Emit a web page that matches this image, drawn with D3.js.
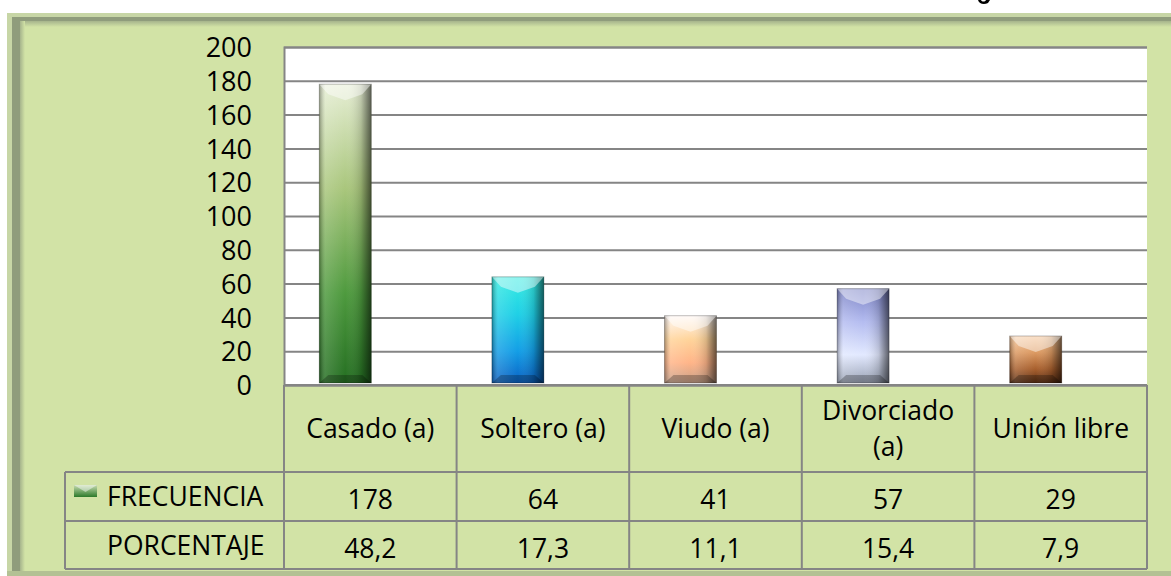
<!DOCTYPE html>
<html>
<head>
<meta charset="utf-8">
<script src="https://cdn.jsdelivr.net/npm/d3@7"></script>
<style>
  html, body { margin: 0; padding: 0; background: #fff; }
  svg { display: block; font-family: "Open Sans", "Noto Sans", sans-serif; }
</style>
</head>
<body>
<div id="chart"></div>
<script>
// ---- data -------------------------------------------------------------
const categories = ['Casado (a)', 'Soltero (a)', 'Viudo (a)', 'Divorciado (a)', 'Unión libre'];
const headerLines = [['Casado (a)'], ['Soltero (a)'], ['Viudo (a)'], ['Divorciado', '(a)'], ['Unión libre']];
const frecuencia = [178, 64, 41, 57, 29];
const porcentaje = ['48,2', '17,3', '11,1', '15,4', '7,9'];
const yTicks = [0, 20, 40, 60, 80, 100, 120, 140, 160, 180, 200];
const rowNames = ['FRECUENCIA', 'PORCENTAJE'];

// bar colour ramps (top -> bottom)
const barStops = [
  ['#e6eed4', '#a9c67c', '#4e9a3e', '#256f22'],
  ['#36ece2', '#1fd0e6', '#139ee6', '#0a62c4'],
  ['#fff6f2', '#ffd49a', '#ffb488', '#c7a088'],
  ['#7d84c6', '#b4bcf0', '#e2e9ff', '#9aa2b4'],
  ['#f6c69a', '#dc9a62', '#a8602e', '#5e3014']
];

// ---- layout -----------------------------------------------------------
const W = 1171, H = 576;
const plot = { left: 284, right: 1147, top: 47, bottom: 385 };
const rowHdr = 65;
const headerBottom = 472, row1Bottom = 521, row2Bottom = 569;
const barW = 52, barShift = -25;
const fs = 26.5;

const svg = d3.select('#chart').append('svg')
  .attr('width', W).attr('height', H);
const defs = svg.append('defs');

// ---- frame ------------------------------------------------------------
svg.append('rect').attr('x', 7).attr('y', 13).attr('width', W).attr('height', H)
  .attr('fill', '#c7d6a6');
svg.append('rect').attr('x', 12).attr('y', 17).attr('width', W).attr('height', H)
  .attr('fill', '#8f9c7c');
const inner = defs.append('linearGradient').attr('id', 'fx').attr('x1', 0).attr('x2', 1);
inner.append('stop').attr('offset', 0).attr('stop-color', '#a6b48c');
inner.append('stop').attr('offset', 1).attr('stop-color', '#d2e3a6');
const innerY = defs.append('linearGradient').attr('id', 'fy').attr('x1', 0).attr('x2', 0).attr('y1', 0).attr('y2', 1);
innerY.append('stop').attr('offset', 0).attr('stop-color', '#a6b48c');
innerY.append('stop').attr('offset', 1).attr('stop-color', '#d2e3a6');
svg.append('rect').attr('x', 20).attr('y', 21).attr('width', W).attr('height', 6).attr('fill', 'url(#fy)');
svg.append('rect').attr('x', 20).attr('y', 21).attr('width', 5).attr('height', H).attr('fill', 'url(#fx)');
svg.append('rect').attr('x', 25).attr('y', 27).attr('width', W).attr('height', H)
  .attr('fill', '#d2e3a6');
// bottom edge of frame
svg.append('rect').attr('x', 7).attr('y', 571).attr('width', W).attr('height', 5).attr('fill', '#b3c194');

// tail of a cut-off title glyph above the frame
svg.append('path')
  .attr('d', 'M978,0 C979,4 984,5 988,3 L990,0 L986,0 C985,2 982,2 981,0 Z')
  .attr('fill', '#000');

// ---- plot area --------------------------------------------------------
const y = d3.scaleLinear().domain([0, 200]).range([plot.bottom, plot.top]);
const x = d3.scaleBand().domain(categories).range([plot.left, plot.right]).padding(0);

svg.append('rect')
  .attr('x', plot.left).attr('y', plot.top)
  .attr('width', plot.right - plot.left).attr('height', plot.bottom - plot.top)
  .attr('fill', '#fff');

const yAxis = d3.axisLeft(y).tickValues(yTicks).tickSize(-(plot.right - plot.left)).tickPadding(32);
const ga = svg.append('g').attr('transform', `translate(${plot.left},0)`).call(yAxis);
ga.select('.domain').attr('stroke', '#858585').attr('stroke-width', 2);
ga.selectAll('.tick line').attr('stroke', '#858585').attr('stroke-width', 2);
ga.selectAll('.tick text').attr('font-size', 27).attr('fill', '#000')
  .attr('font-family', '"Open Sans", sans-serif').attr('dy', '0.36em');

// ---- bars -------------------------------------------------------------
barStops.forEach((s, i) => {
  const g = defs.append('linearGradient').attr('id', 'bg' + i)
    .attr('x1', 0).attr('x2', 0).attr('y1', 0).attr('y2', 1);
  [0, 0.35, 0.7, 1].forEach((o, k) => g.append('stop').attr('offset', o).attr('stop-color', s[k]));
});
const side = defs.append('linearGradient').attr('id', 'side').attr('x1', 0).attr('x2', 1);
side.append('stop').attr('offset', 0).attr('stop-color', '#000').attr('stop-opacity', 0.35);
side.append('stop').attr('offset', 0.12).attr('stop-color', '#fff').attr('stop-opacity', 0.15);
side.append('stop').attr('offset', 0.5).attr('stop-color', '#fff').attr('stop-opacity', 0);
side.append('stop').attr('offset', 0.8).attr('stop-color', '#000').attr('stop-opacity', 0.15);
side.append('stop').attr('offset', 1).attr('stop-color', '#000').attr('stop-opacity', 0.6);

const bars = svg.append('g').selectAll('g').data(frecuencia).join('g')
  .attr('transform', (d, i) => `translate(${x(categories[i]) + x.bandwidth() / 2 + barShift - barW / 2},0)`);
bars.append('rect')
  .attr('y', d => y(d)).attr('width', barW).attr('height', d => y(0) - y(d) - 2)
  .attr('fill', (d, i) => `url(#bg${i})`);
bars.append('rect')
  .attr('y', d => y(d)).attr('width', barW).attr('height', d => y(0) - y(d) - 2)
  .attr('fill', 'url(#side)');
// top bevel (light chevron) and bottom bevel (dark)
bars.append('path')
  .attr('d', d => `M0,${y(d)}H${barW}L${barW - 9},${y(d) + 10}L${barW / 2},${y(d) + 16}L9,${y(d) + 10}Z`)
  .attr('fill', '#fff').attr('fill-opacity', 0.45);
bars.append('path')
  .attr('d', d => `M0,${y(0) - 2}H${barW}L${barW - 9},${y(0) - 10}H9Z`)
  .attr('fill', '#000').attr('fill-opacity', 0.25);
bars.append('rect')
  .attr('y', d => y(d)).attr('width', barW).attr('height', d => y(0) - y(d) - 2)
  .attr('fill', 'none').attr('stroke', '#000').attr('stroke-opacity', 0.25).attr('stroke-width', 1);

// ---- data table -------------------------------------------------------
const tbl = svg.append('g').attr('stroke', '#858585').attr('stroke-width', 2).attr('fill', 'none');
tbl.append('line').attr('x1', plot.left).attr('x2', plot.right).attr('y1', plot.bottom).attr('y2', plot.bottom);
[headerBottom, row1Bottom, row2Bottom].forEach(yy =>
  tbl.append('line').attr('x1', rowHdr).attr('x2', plot.right).attr('y1', yy).attr('y2', yy));
tbl.append('line').attr('x1', rowHdr).attr('x2', rowHdr).attr('y1', headerBottom).attr('y2', row2Bottom);
categories.forEach(c => tbl.append('line')
  .attr('x1', x(c)).attr('x2', x(c)).attr('y1', plot.bottom).attr('y2', row2Bottom));
tbl.append('line').attr('x1', plot.right).attr('x2', plot.right).attr('y1', plot.bottom).attr('y2', row2Bottom);

const txt = svg.append('g').attr('font-size', fs).attr('fill', '#000').attr('text-anchor', 'middle');
headerLines.forEach((lines, i) => {
  const cx = x(categories[i]) + x.bandwidth() / 2;
  const mid = (plot.bottom + headerBottom) / 2;
  lines.forEach((l, k) => txt.append('text')
    .attr('x', cx).attr('y', mid + (k - (lines.length - 1) / 2) * 36).attr('dy', '0.36em').text(l));
});
frecuencia.forEach((v, i) => txt.append('text')
  .attr('x', x(categories[i]) + x.bandwidth() / 2).attr('y', (headerBottom + row1Bottom) / 2 + 3)
  .attr('dy', '0.36em').text(v));
porcentaje.forEach((v, i) => txt.append('text')
  .attr('x', x(categories[i]) + x.bandwidth() / 2).attr('y', (row1Bottom + row2Bottom) / 2 + 3)
  .attr('dy', '0.36em').text(v));
rowNames.forEach((n, k) => txt.append('text')
  .attr('text-anchor', 'start').attr('x', 107)
  .attr('y', k === 0 ? (headerBottom + row1Bottom) / 2 : (row1Bottom + row2Bottom) / 2)
  .attr('dy', '0.36em').text(n));

// legend key
const key = defs.append('linearGradient').attr('id', 'key').attr('x1', 0).attr('x2', 0).attr('y1', 0).attr('y2', 1);
key.append('stop').attr('offset', 0).attr('stop-color', '#c8dcb0');
key.append('stop').attr('offset', 1).attr('stop-color', '#2c7a2a');
svg.append('rect').attr('x', 74).attr('y', 485).attr('width', 23).attr('height', 12).attr('fill', 'url(#key)');
svg.append('path').attr('d', 'M74,485H97L85.5,492Z').attr('fill', '#fff').attr('fill-opacity', 0.45);
</script>
</body>
</html>
